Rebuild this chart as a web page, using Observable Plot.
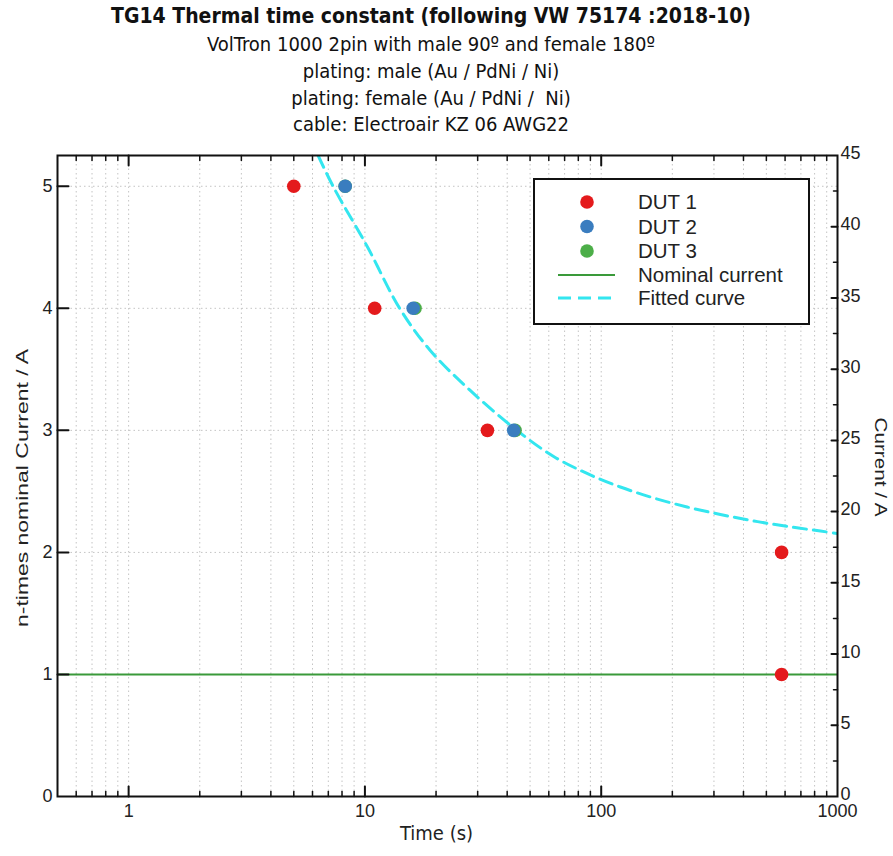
<!DOCTYPE html>
<html>
<head>
<meta charset="utf-8">
<script src="https://cdn.jsdelivr.net/npm/d3@7"></script>
<script src="https://cdn.jsdelivr.net/npm/@observablehq/plot@0.6"></script>
<style>
  body { margin: 0; background: #fff; }
  #wrap { position: relative; width: 893px; height: 856px; overflow: hidden; }
  .t { position: absolute; left: 0; width: 862px; text-align: center; color: #111; line-height: 1.15;
       font-family: "DejaVu Sans Condensed", Tahoma, "DejaVu Sans", sans-serif; white-space: pre; }
  #chart { position: absolute; left: 0; top: 138px; }
  #legend { position: absolute; left: 0; top: 0; }
</style>
</head>
<body>
<div id="wrap">
  <div class="t" style="top:4px; font-size:21px; font-weight:bold;">TG14 Thermal time constant (following VW 75174 :2018-10)</div>
  <div class="t" style="top:33px; font-size:20px;">VolTron 1000 2pin with male 90º and female 180º</div>
  <div class="t" style="top:60px; font-size:20px;">plating: male (Au / PdNi / Ni)</div>
  <div class="t" style="top:87px; font-size:20px;">plating: female (Au / PdNi /  Ni)</div>
  <div class="t" style="top:113px; font-size:20px;">cable: Electroair KZ 06 AWG22</div>
  <div id="chart"></div>
  <svg id="legend" width="893" height="856"></svg>
</div>
<script>
// ---- data ----
const dut1Time = [5, 11, 33, 580, 580];
const dut1N    = [5, 4, 3, 2, 1];
const dut2Time = [8.25, 16.0, 42.6];
const dut2N    = [5, 4, 3];
const dut3Time = [8.25, 16.3, 43.2];
const dut3N    = [5, 4, 3];
const fitTime  = [6.34, 7.33, 10.27, 14.03, 18.9, 27.9, 44.0, 62.9, 87.1, 120.5, 166.7, 230.9, 319.5, 442, 612, 847, 1000];
const fitN     = [5.252, 5.0, 4.5, 4.0, 3.655, 3.327, 2.999, 2.786, 2.647, 2.536, 2.446, 2.372, 2.311, 2.258, 2.213, 2.175, 2.155];
const nominalN = [1];
const nominalCurrent = 8.568; // A for n = 1

// ---- ticks ----
const xMajor = [1, 10, 100, 1000];
const xMinor = [0.5, 0.6, 0.7, 0.8, 0.9, 2, 3, 4, 5, 6, 7, 8, 9, 20, 30, 40, 50, 60, 70, 80, 90,
                200, 300, 400, 500, 600, 700, 800, 900];
const yTicks = [0, 1, 2, 3, 4, 5];
const currentTicks = [0, 5, 10, 15, 20, 25, 30, 35, 40, 45];
const currentMinor = [2.5, 7.5, 12.5, 17.5, 22.5, 27.5, 32.5, 37.5, 42.5];
const legendLabels = ["DUT 1", "DUT 2", "DUT 3", "Nominal current", "Fitted curve"];

const colors = { dut1: "#e41a1c", dut2: "#3a7dbf", dut3: "#4cae48", nominal: "#3a9a3a", fit: "#33e6ef" };

const toRows = (xs, ys) => xs.map((x, i) => ({ x, y: ys[i] }));
const dut1 = toRows(dut1Time, dut1N);
const dut2 = toRows(dut2Time, dut2N);
const dut3 = toRows(dut3Time, dut3N);
const fit = toRows(fitTime, fitN);

const tickShape = { draw(ctx, l) { ctx.moveTo(0, 0); ctx.lineTo(0, -l); } };
const gridStyle = { stroke: "#c4c4c4", strokeDasharray: "1.5,3", strokeWidth: 1 };
const font = "Liberation Sans, Arial, sans-serif";

const plot = Plot.plot({
  width: 893,
  height: 718,
  marginTop: 17,
  marginBottom: 60,
  marginLeft: 57,
  marginRight: 56,
  style: { fontFamily: font, background: "white", color: "#222" },
  x: { type: "log", domain: [0.5, 1000], axis: null },
  y: { domain: [0, 45 / nominalCurrent], axis: null },
  marks: [
    Plot.ruleX(xMajor.slice(0, 3).concat(xMinor.slice(1)), gridStyle),
    Plot.ruleY(yTicks.slice(1), gridStyle),
    Plot.ruleY(nominalN, { stroke: colors.nominal, strokeWidth: 2 }),
    Plot.line(fit, { x: "x", y: "y", stroke: colors.fit, strokeWidth: 3, strokeDasharray: "13,7", curve: "catmull-rom", clip: true }),
    Plot.dot(dut1, { x: "x", y: "y", r: 6.8, fill: colors.dut1 }),
    Plot.dot(dut3, { x: "x", y: "y", r: 6.8, fill: colors.dut3 }),
    Plot.dot(dut2, { x: "x", y: "y", r: 6.8, fill: colors.dut2 }),
    Plot.frame({ stroke: "#111", strokeWidth: 2 }),
    // bottom ticks (inward)
    Plot.vector(xMajor.slice(0, 3), { x: d => d, frameAnchor: "bottom", length: 10, rotate: 0, anchor: "start", shape: tickShape, stroke: "#111", strokeWidth: 2 }),
    Plot.vector(xMinor.slice(1), { x: d => d, frameAnchor: "bottom", length: 5, rotate: 0, anchor: "start", shape: tickShape, stroke: "#111", strokeWidth: 1.5 }),
    // top ticks (inward)
    Plot.vector(xMajor.slice(0, 3), { x: d => d, frameAnchor: "top", length: 10, rotate: 180, anchor: "start", shape: tickShape, stroke: "#111", strokeWidth: 2 }),
    Plot.vector(xMinor.slice(1), { x: d => d, frameAnchor: "top", length: 5, rotate: 180, anchor: "start", shape: tickShape, stroke: "#111", strokeWidth: 1.5 }),
    // left ticks
    Plot.vector(yTicks.slice(1), { y: d => d, frameAnchor: "left", length: 11, rotate: 90, anchor: "start", shape: tickShape, stroke: "#111", strokeWidth: 2 }),
    // right ticks
    Plot.vector(currentTicks.slice(1, -1), { y: d => d / nominalCurrent, frameAnchor: "right", length: 6, rotate: -90, anchor: "start", shape: tickShape, stroke: "#111", strokeWidth: 2 }),
    Plot.vector(currentMinor, { y: d => d / nominalCurrent, frameAnchor: "right", length: 4, rotate: -90, anchor: "start", shape: tickShape, stroke: "#111", strokeWidth: 1.5 }),
    // tick labels
    Plot.text(xMajor, { x: d => d, frameAnchor: "bottom", dy: 20, text: d => String(d), fontSize: 18, fill: "#222" }),
    Plot.text(yTicks, { y: d => d, frameAnchor: "left", dx: -5, textAnchor: "end", text: d => String(d), fontSize: 18, fill: "#222" }),
    Plot.text(currentTicks, { y: d => d / nominalCurrent, frameAnchor: "right", dx: 3, dy: -2, textAnchor: "start", text: d => String(d), fontSize: 18, fill: "#222" }),
    // axis titles
    Plot.text(["Time (s)"], { frameAnchor: "bottom", dx: -11, dy: 43, fontSize: 20, fill: "#222", fontFamily: "DejaVu Sans Condensed, Tahoma, sans-serif" }),
    Plot.text(["n-times nominal Current / A"], { frameAnchor: "left", textAnchor: "middle", dx: -35, dy: 12, rotate: -90, fontSize: 17, fill: "#222" }),
    Plot.text(["Current / A"], { frameAnchor: "right", textAnchor: "middle", dx: 43, dy: -9, rotate: 90, fontSize: 17, fill: "#222" })
  ]
});
document.getElementById("chart").appendChild(plot);

// stretch rotated axis titles along their length, as in the reference
d3.select(plot).selectAll("text").each(function () {
  const s = this.textContent;
  const t = this.getAttribute("transform") || "";
  if (s === "n-times nominal Current / A") this.setAttribute("transform", t + " scale(1.35,1)");
  if (s === "Current / A") this.setAttribute("transform", t + " scale(1.22,1)");
});

// ---- legend ----
const lg = d3.select("#legend");
const box = { x: 534, y: 179, w: 275, h: 145 };
lg.append("rect").attr("x", box.x).attr("y", box.y).attr("width", box.w).attr("height", box.h)
  .attr("fill", "white").attr("stroke", "#111").attr("stroke-width", 2);
const rowY = [202, 226.5, 251, 275, 298];
const symColors = [colors.dut1, colors.dut2, colors.dut3, colors.nominal, colors.fit];
legendLabels.forEach((lab, i) => {
  const y = rowY[i];
  if (i < 3) {
    lg.append("circle").attr("cx", 587).attr("cy", y).attr("r", 6.8).attr("fill", symColors[i]);
  } else {
    lg.append("line").attr("x1", 558).attr("x2", 615).attr("y1", y).attr("y2", y)
      .attr("stroke", symColors[i]).attr("stroke-width", i === 3 ? 2 : 3)
      .attr("stroke-dasharray", i === 4 ? "13,7" : null);
  }
  lg.append("text").attr("x", 638).attr("y", y).attr("dy", "0.36em")
    .attr("font-family", font).attr("font-size", 20.5).attr("fill", "#222").text(lab);
});
</script>
</body>
</html>
